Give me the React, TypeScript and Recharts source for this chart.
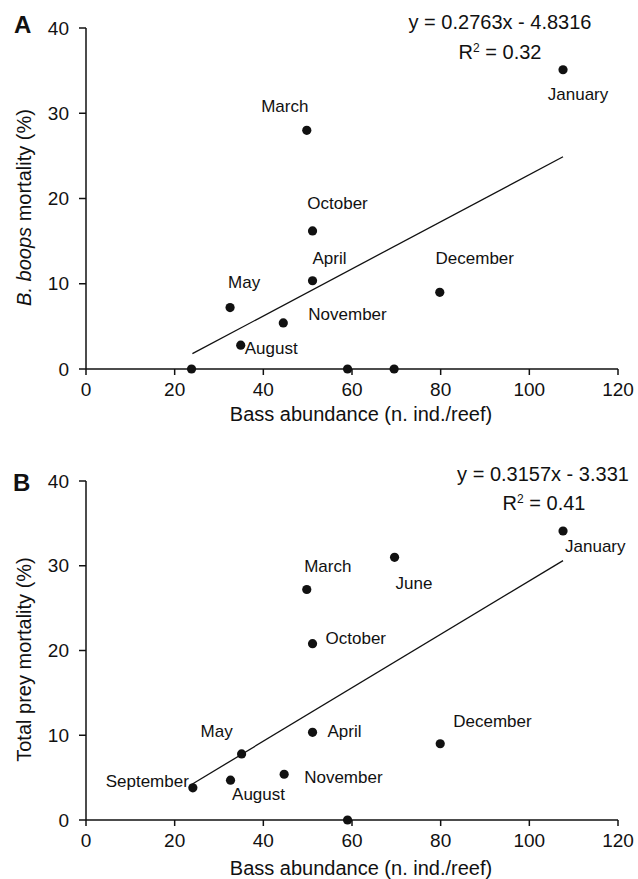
import { ScatterChart, Scatter, XAxis, YAxis, Label } from "recharts";

// panel A: B. boops mortality
const bassA = [23.8, 32.5, 34.9, 44.5, 49.8, 51.1, 51.1, 59.0, 69.5, 79.8, 107.6];
const mortA = [0, 7.2, 2.8, 5.4, 28.0, 16.2, 10.35, 0, 0, 9.0, 35.1];
const monthsA = ["", "May", "August", "November", "March", "October", "April", "", "", "December", "January"];
const trendA = [
  { x: 24, y: 1.8 },
  { x: 107.6, y: 24.9 },
];

// panel B: total prey mortality
const bassB = [24.1, 32.6, 35.1, 44.7, 49.8, 51.1, 51.1, 59.0, 69.6, 79.9, 107.6];
const mortB = [3.8, 4.7, 7.8, 5.4, 27.2, 20.8, 10.35, 0, 31.0, 9.0, 34.1];
const monthsB = ["September", "August", "May", "November", "March", "October", "April", "", "June", "December", "January"];
const trendB = [
  { x: 24, y: 4.25 },
  { x: 107.6, y: 30.6 },
];

const xTicks = [0, 20, 40, 60, 80, 100, 120];
const yTicks = [0, 10, 20, 30, 40];

type Anchor = "start" | "middle" | "end";
type Off = { dx: number; dy: number; a: Anchor };

// label placement relative to the dot
const offA: Record<string, Off> = {
  March: { dx: -22, dy: -24, a: "middle" },
  October: { dx: 25, dy: -27, a: "middle" },
  April: { dx: 17, dy: -22, a: "middle" },
  May: { dx: 14, dy: -25, a: "middle" },
  August: { dx: 4, dy: 3, a: "start" },
  November: { dx: 25, dy: -8, a: "start" },
  December: { dx: 35, dy: -34, a: "middle" },
  January: { dx: 15, dy: 25, a: "middle" },
};
const offB: Record<string, Off> = {
  September: { dx: -4, dy: -6, a: "end" },
  August: { dx: 28, dy: 14, a: "middle" },
  May: { dx: -25, dy: -22, a: "middle" },
  November: { dx: 20, dy: 3, a: "start" },
  March: { dx: 21, dy: -23, a: "middle" },
  October: { dx: 13, dy: -5, a: "start" },
  April: { dx: 15, dy: -1, a: "start" },
  June: { dx: 1, dy: 26, a: "start" },
  December: { dx: 13, dy: -22, a: "start" },
  January: { dx: 2, dy: 15, a: "start" },
};

const FONT = '"Liberation Sans", Arial, sans-serif';
const INK = "#111";

const toPoints = (xs: number[], ys: number[], names: string[]) =>
  xs.map((x, i) => ({ x, y: ys[i], name: names[i] }));

function makeDot(offs: Record<string, Off>) {
  return (props: any) => {
    const { cx, cy, payload } = props;
    const o = offs[payload.name];
    return (
      <g>
        <circle cx={cx} cy={cy} r={4.6} fill={INK} />
        {o && (
          <text
            x={cx + o.dx}
            y={cy + o.dy}
            textAnchor={o.a}
            dominantBaseline="central"
            fontSize={17}
            fontFamily={FONT}
            fill={INK}
          >
            {payload.name}
          </text>
        )}
      </g>
    );
  };
}

function Panel({
  height,
  points,
  trend,
  offs,
  yTitle,
  titleGap,
}: {
  height: number;
  points: { x: number; y: number; name: string }[];
  trend: { x: number; y: number }[];
  offs: Record<string, Off>;
  yTitle: React.ReactNode;
  titleGap: number;
}) {
  const tickStyle = { fontSize: 19, fontFamily: FONT, fill: INK };
  return (
    <ScatterChart width={638} height={height} margin={{ top: 20, right: 20, bottom: 4, left: 26 }}>
      <XAxis
        type="number"
        dataKey="x"
        domain={[0, 120]}
        ticks={xTicks}
        height={55}
        stroke={INK}
        strokeWidth={1.5}
        tickSize={6}
        tickMargin={8}
        tick={tickStyle}
      >
        <Label
          content={(p: any) => {
            const vb = p.viewBox;
            return (
              <text
                x={vb.x + vb.width / 2 + 9}
                y={vb.y + titleGap}
                textAnchor="middle"
                dominantBaseline="central"
                fontSize={20}
                fontFamily={FONT}
                fill={INK}
              >
                Bass abundance (n. ind./reef)
              </text>
            );
          }}
        />
      </XAxis>
      <YAxis
        type="number"
        dataKey="y"
        domain={[0, 40]}
        ticks={yTicks}
        width={60}
        stroke={INK}
        strokeWidth={1.5}
        tickSize={7}
        tickMargin={10}
        tick={tickStyle}
      >
        <Label
          content={(p: any) => {
            const vb = p.viewBox;
            const cx = 24;
            const cy = vb.y + vb.height / 2 + 9;
            return (
              <text
                x={cx}
                y={cy}
                transform={`rotate(-90 ${cx} ${cy})`}
                textAnchor="middle"
                dominantBaseline="central"
                fontSize={20}
                fontFamily={FONT}
                fill={INK}
              >
                {yTitle}
              </text>
            );
          }}
        />
      </YAxis>
      <Scatter
        data={trend}
        line={{ stroke: INK, strokeWidth: 1.3 }}
        shape={() => <g />}
        isAnimationActive={false}
      />
      <Scatter data={points} shape={makeDot(offs)} isAnimationActive={false} />
    </ScatterChart>
  );
}

const abs = (left: number, top: number, extra: React.CSSProperties = {}): React.CSSProperties => ({
  position: "absolute",
  left,
  top,
  fontFamily: FONT,
  color: INK,
  lineHeight: 1,
  whiteSpace: "nowrap",
  ...extra,
});

export default function App() {
  const eq: React.CSSProperties = { fontSize: 20, transform: "translate(-50%, -50%)" };
  const sup = <sup style={{ fontSize: 12, verticalAlign: "7px" }}>2</sup>;
  return (
    <div style={{ position: "relative", width: 638, height: 879, background: "#fff" }}>
      <style>{"body{margin:0}"}</style>
      <div style={{ position: "absolute", left: 0, top: 8 }}>
        <Panel
          height={420}
          points={toPoints(bassA, mortA, monthsA)}
          trend={trendA}
          offs={offA}
          titleGap={45}
          yTitle={
            <>
              <tspan fontStyle="italic">B. boops</tspan> mortality (%)
            </>
          }
        />
      </div>
      <div style={{ position: "absolute", left: 0, top: 461 }}>
        <Panel
          height={418}
          points={toPoints(bassB, mortB, monthsB)}
          trend={trendB}
          offs={offB}
          titleGap={48}
          yTitle="Total prey mortality (%)"
        />
      </div>

      <div style={abs(14, 13, { fontSize: 24, fontWeight: "bold" })}>A</div>
      <div style={abs(13, 471, { fontSize: 24, fontWeight: "bold" })}>B</div>

      <div style={abs(500, 22, eq)}>y = 0.2763x - 4.8316</div>
      <div style={abs(500, 52, eq)}>R{sup} = 0.32</div>
      <div style={abs(543, 474, eq)}>y = 0.3157x - 3.331</div>
      <div style={abs(544, 503, eq)}>R{sup} = 0.41</div>
    </div>
  );
}
